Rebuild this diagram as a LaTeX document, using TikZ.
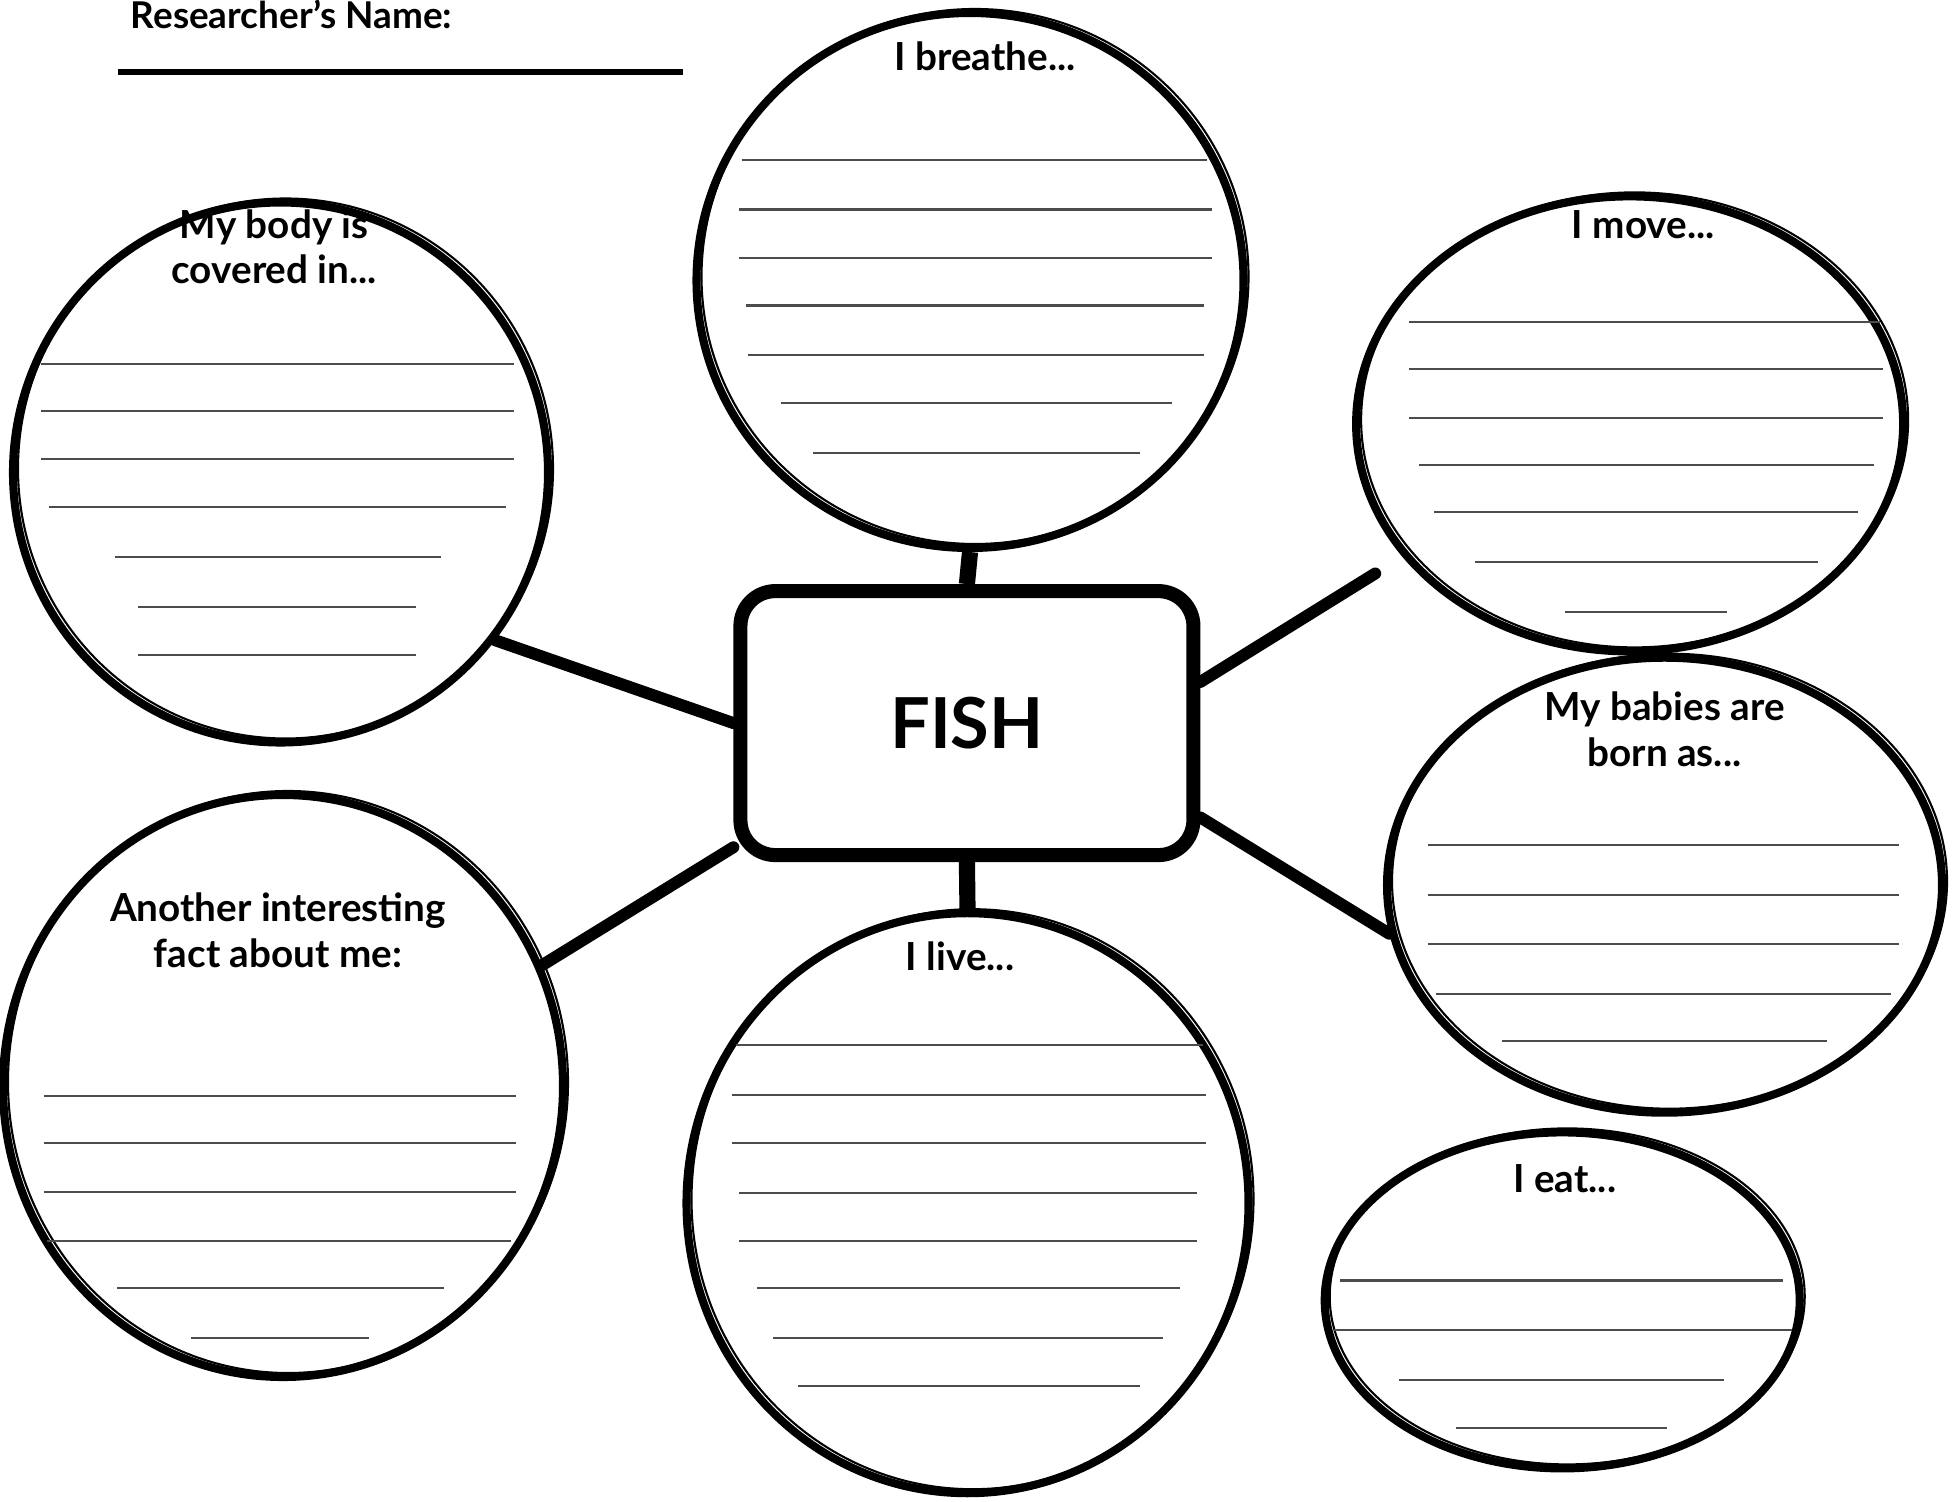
\documentclass[tikz,border=0pt]{standalone}
\usepackage{fontspec}
\setmainfont{Lato}
\usetikzlibrary{shapes.geometric}

\begin{document}
\begin{tikzpicture}[
  bubble/.style={draw, ellipse, line width=2.3pt, inner sep=0pt,
    preaction={draw, line width=0.6pt, transform canvas={shift={(0.05,0.04)}}}},
  topic/.style={draw, rectangle, rounded corners=0.35cm, line width=4pt,
    minimum width=4.53cm, minimum height=2.64cm,
    font=\fontsize{20}{24}\selectfont\bfseries},
  head/.style={align=center, font=\fontsize{11}{13}\selectfont\bfseries},
  rule/.style={draw=black!70, line width=0.6pt},
  link/.style={line width=3.4pt, line cap=round},
  stub/.style={line width=4.6pt}
]
\useasboundingbox (0,0) rectangle (19.55,-15.02);

% name line
\node[anchor=base west, font=\fontsize{10.5}{12}\selectfont\bfseries] (who) at (1.184,-0.29) {Researcher's Name:};
\coordinate (who-a) at (1.184,-0.723);
\coordinate (who-b) at (6.833,-0.723);
\path[draw,line width=1.6pt] (who-a) -- (who-b);

% bubbles
\node[bubble, minimum width=5.47cm, minimum height=5.35cm] (breathe) at (9.70,-2.805) {};
\node[bubble, minimum width=5.35cm, minimum height=5.40cm] (body) at (2.805,-4.725) {};
\node[bubble, minimum width=5.47cm, minimum height=4.55cm] (move) at (16.296,-4.239) {};
\node[bubble, minimum width=5.55cm, minimum height=4.55cm] (babies) at (16.645,-8.852) {};
\node[bubble, minimum width=4.75cm, minimum height=3.36cm] (eat) at (15.622,-13.004) {};
\node[bubble, minimum width=5.62cm, minimum height=5.80cm] (live) at (9.675,-12.032) {};
\node[bubble, minimum width=5.60cm, minimum height=5.82cm] (fact) at (2.830,-10.860) {};

% centre
\node[topic] (fish) at (9.669,-7.231) {FISH};

% headings
\node[head] (breathe-t) at (9.850,-0.561) {I breathe...};
\node[head] (body-t) at (2.743,-2.469) {My body is\\covered in...};
\node[head] (move-t) at (16.433,-2.244) {I move...};
\node[head] (babies-t) at (16.645,-7.294) {My babies are\\born as...};
\node[head] (eat-t) at (15.647,-11.782) {I eat...};
\node[head] (live-t) at (9.600,-9.563) {I live...};
\node[head] (fact-t) at (2.780,-9.301) {Another interesting\\fact about me:};

% connectors
\coordinate (gap) at (13.752,-5.735);
\path[draw,stub] (fish.north) -- (breathe.south);
\path[draw,stub] (fish.south) -- (live.north);
\path[draw,link] (body.-38) -- (fish.west);
\path[draw,link] (fish.-152) -- (fact.25);
\path[draw,link] (fish.10) -- (gap);
\path[draw,link] (fish.-22) -- (babies.190);

% writing lines
\foreach \y/\a/\b in {-1.596/7.418/12.069, -2.095/7.394/12.119, -2.581/7.394/12.119,
    -3.055/7.456/12.044, -3.553/7.481/12.044, -4.027/7.805/11.720, -4.526/8.129/11.396}
  \path[rule] (\a,\y) -- (\b,\y);
\foreach \y/\a/\b in {-3.641/0.411/5.137, -4.114/0.411/5.137, -4.588/0.411/5.137,
    -5.074/0.486/5.062, -5.573/1.147/4.414, -6.072/1.384/4.164, -6.546/1.384/4.164}
  \path[rule] (\a,\y) -- (\b,\y);
\foreach \y/\a/\b in {-3.217/14.089/18.802, -3.691/14.089/18.827, -4.177/14.089/18.827,
    -4.651/14.189/18.739, -5.124/14.338/18.577, -5.623/14.750/18.178, -6.122/15.647/17.268}
  \path[rule] (\a,\y) -- (\b,\y);
\foreach \y/\a/\b in {-8.453/14.276/18.989, -8.952/14.276/18.989, -9.438/14.276/18.989,
    -9.937/14.363/18.914, -10.411/15.024/18.266}
  \path[rule] (\a,\y) -- (\b,\y);
\foreach \y/\a/\b in {-12.805/13.403/17.829, -13.303/13.341/17.917,
    -13.802/13.989/17.243, -14.276/14.563/16.670}
  \path[rule] (\a,\y) -- (\b,\y);
\foreach \y/\a/\b in {-10.448/7.356/12.032, -10.947/7.319/12.057, -11.433/7.319/12.057,
    -11.932/7.394/11.969, -12.406/7.394/11.969, -12.879/7.568/11.795,
    -13.378/7.730/11.633, -13.864/7.980/11.396}
  \path[rule] (\a,\y) -- (\b,\y);
\foreach \y/\a/\b in {-10.959/0.436/5.162, -11.433/0.436/5.162, -11.919/0.436/5.162,
    -12.406/0.474/5.112, -12.879/1.172/4.439, -13.378/1.908/3.691}
  \path[rule] (\a,\y) -- (\b,\y);
\end{tikzpicture}
\end{document}
